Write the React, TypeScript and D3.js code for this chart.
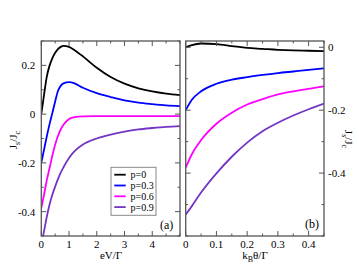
import React from 'react';
import * as d3 from 'd3';

// panel (a): J_s/J_c vs eV/Γ
const eV = [0, 0.1, 0.2, 0.3, 0.4, 0.5, 0.6, 0.7, 0.8, 1.0, 1.2, 1.5, 2, 2.5, 3, 3.5, 4, 4.5, 5];
const aP0 = [0, 0.08, 0.155, 0.2, 0.23, 0.252, 0.267, 0.276, 0.28, 0.276, 0.262, 0.237, 0.19, 0.152, 0.125, 0.106, 0.093, 0.084, 0.078];
const aP03 = [-0.2, -0.145, -0.09, -0.04, 0.005, 0.052, 0.095, 0.116, 0.126, 0.131, 0.126, 0.108, 0.086, 0.07, 0.056, 0.047, 0.041, 0.036, 0.033];
const aP06 = [-0.385, -0.33, -0.27, -0.22, -0.17, -0.125, -0.09, -0.063, -0.044, -0.02, -0.012, -0.009, -0.008, -0.008, -0.008, -0.008, -0.008, -0.008, -0.008];
const aP09 = [-0.535, -0.48, -0.42, -0.37, -0.33, -0.297, -0.267, -0.24, -0.218, -0.18, -0.152, -0.125, -0.1, -0.084, -0.072, -0.063, -0.057, -0.052, -0.049];

// panel (b): J_s/J_c vs k_B θ/Γ
const theta = [0, 0.02, 0.05, 0.1, 0.15, 0.2, 0.25, 0.3, 0.35, 0.4, 0.45];
const bP0 = [0, 0.007, 0.012, 0.01, 0.004, -0.002, -0.005, -0.008, -0.01, -0.011, -0.012];
const bP03 = [-0.2, -0.167, -0.14, -0.116, -0.103, -0.095, -0.088, -0.082, -0.077, -0.072, -0.067];
const bP06 = [-0.383, -0.34, -0.295, -0.243, -0.208, -0.182, -0.165, -0.15, -0.14, -0.132, -0.124];
const bP09 = [-0.532, -0.505, -0.462, -0.401, -0.348, -0.303, -0.267, -0.24, -0.217, -0.197, -0.179];

const labels = ['p=0', 'p=0.3', 'p=0.6', 'p=0.9'];
const colors = ['#000000', '#0000ff', '#ff00ff', '#7435c4'];

const aTicksX = [0, 1, 2, 3, 4];
const aTicksY = [-0.4, -0.2, 0, 0.2];
const bTicksX = [0, 0.1, 0.2, 0.3, 0.4];
const bTicksY = [-0.4, -0.2, 0];

const font = 'Liberation Serif, DejaVu Serif, serif';
const frame = '#555';

const top = 41, bottom = 236;

interface PanelProps {
  id: string;
  x0: number;
  x1: number;
  xDomain: [number, number];
  yDomain: [number, number];
  xs: number[];
  series: number[][];
  xTicks: number[];
  xMinor: number;
  yTicks: number[];
  yMinor: number;
  labelSide: 'left' | 'right';
}

const fmt = (v: number) => (Math.abs(v) < 1e-9 ? '0' : Number.isInteger(v) ? String(v) : v.toFixed(1));

const Panel: React.FC<PanelProps> = ({ id, x0, x1, xDomain, yDomain, xs, series, xTicks, xMinor, yTicks, yMinor, labelSide }) => {
  const x = d3.scaleLinear().domain(xDomain).range([x0, x1]);
  const y = d3.scaleLinear().domain(yDomain).range([bottom, top]);
  const line = d3.line<number>()
    .x((_, i) => x(xs[i]))
    .y((d) => y(d))
    .curve(d3.curveMonotoneX);

  const minorX = d3.range(xDomain[0], xDomain[1] + 1e-9, xMinor);
  const minorY = d3.range(Math.ceil(yDomain[0] / yMinor - 1e-9) * yMinor, yDomain[1] + 1e-9, yMinor);
  const isMajor = (v: number, arr: number[]) => arr.some((t) => Math.abs(t - v) < 1e-6);

  return (
    <g>
      <defs>
        <clipPath id={id}>
          <rect x={x0} y={top} width={x1 - x0} height={bottom - top} />
        </clipPath>
      </defs>
      <g clipPath={`url(#${id})`}>
        {series.map((s, i) => (
          <path key={i} d={line(s) || ''} fill="none" stroke={colors[i]} strokeWidth={1.8} />
        ))}
      </g>
      <rect x={x0} y={top} width={x1 - x0} height={bottom - top} fill="none" stroke={frame} strokeWidth={1.3} />
      {minorX.map((v, i) => {
        const len = isMajor(v, xTicks) ? 5 : 2.5;
        return (
          <g key={'mx' + i}>
            <line x1={x(v)} x2={x(v)} y1={bottom} y2={bottom - len} stroke={frame} />
            <line x1={x(v)} x2={x(v)} y1={top} y2={top + len} stroke={frame} />
          </g>
        );
      })}
      {minorY.map((v, i) => {
        const len = isMajor(v, yTicks) ? 5 : 2.5;
        return (
          <g key={'my' + i}>
            <line x1={x0} x2={x0 + len} y1={y(v)} y2={y(v)} stroke={frame} />
            <line x1={x1} x2={x1 - len} y1={y(v)} y2={y(v)} stroke={frame} />
          </g>
        );
      })}
      {xTicks.map((v) => (
        <text key={'xt' + v} x={x(v)} y={bottom + 11.5} textAnchor="middle" fontFamily={font} fontSize={11}>
          {fmt(v)}
        </text>
      ))}
      {yTicks.map((v) => (
        <text
          key={'yt' + v}
          x={labelSide === 'left' ? x0 - 6 : x1 + 4}
          y={y(v) + 4}
          textAnchor={labelSide === 'left' ? 'end' : 'start'}
          fontFamily={font}
          fontSize={11}
        >
          {fmt(v)}
        </text>
      ))}
    </g>
  );
};

const YLabel: React.FC<{ cx: number; cy: number; angle: number }> = ({ cx, cy, angle }) => (
  <text transform={`translate(${cx},${cy}) rotate(${angle})`} textAnchor="middle" fontFamily={font} fontSize={11}>
    J<tspan fontSize={8} dy={3}>s</tspan>
    <tspan dy={-3}>/J</tspan>
    <tspan fontSize={8} dy={3}>c</tspan>
  </text>
);

const App: React.FC = () => {
  const lx = 114.3, ly = 174.7, lstep = 10.8;
  return (
    <svg width={359} height={278} style={{ position: 'absolute', left: 0, top: 0, background: '#fff' }}>
      <Panel
        id="clipA"
        x0={41.3}
        x1={180}
        xDomain={[0, 5]}
        yDomain={[-0.5, 0.3]}
        xs={eV}
        series={[aP0, aP03, aP06, aP09]}
        xTicks={aTicksX}
        xMinor={0.5}
        yTicks={aTicksY}
        yMinor={0.1}
        labelSide="left"
      />
      <Panel
        id="clipB"
        x0={185.7}
        x1={324}
        xDomain={[0, 0.45]}
        yDomain={[-0.6, 0.02]}
        xs={theta}
        series={[bP0, bP03, bP06, bP09]}
        xTicks={bTicksX}
        xMinor={0.05}
        yTicks={bTicksY}
        yMinor={0.1}
        labelSide="right"
      />

      {/* legend */}
      <rect x={111} y={167.3} width={45} height={48} fill="#fff" stroke="#888" strokeWidth={1} />
      {labels.map((l, i) => (
        <g key={l}>
          <line x1={lx} x2={lx + 11.4} y1={ly + i * lstep} y2={ly + i * lstep} stroke={colors[i]} strokeWidth={1.8} />
          <text x={130.5} y={ly + i * lstep + 3.5} fontFamily={font} fontSize={10}>{l}</text>
        </g>
      ))}

      <text x={160} y={229} fontFamily={font} fontSize={12}>(a)</text>
      <text x={305} y={228} fontFamily={font} fontSize={12}>(b)</text>

      <YLabel cx={17} cy={140} angle={-90} />
      <YLabel cx={345} cy={139} angle={90} />

      <text x={111} y={258.5} textAnchor="middle" fontFamily={font} fontSize={11}>eV/Γ</text>
      <text x={255} y={258.5} textAnchor="middle" fontFamily={font} fontSize={11}>
        k<tspan fontSize={8} dy={3}>B</tspan>
        <tspan dy={-3}>θ/Γ</tspan>
      </text>
    </svg>
  );
};

export default App;
